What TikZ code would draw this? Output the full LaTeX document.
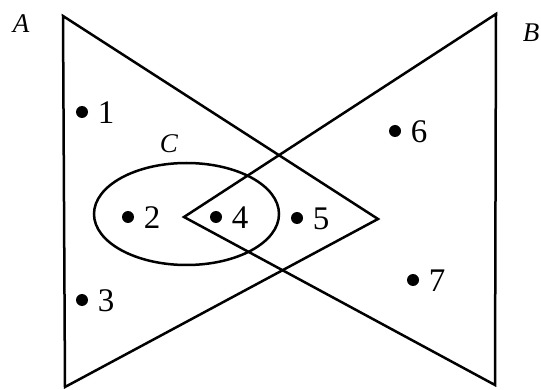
\documentclass[tikz,border=0pt]{standalone}
\usepackage{fontspec}
\setmainfont{Liberation Serif}
\usepackage{tikz}
\usetikzlibrary{calc}

\begin{document}
\begin{tikzpicture}[x=1pt, y=-1pt, line width=2.5pt, line join=miter,
		elem/.style={circle, fill, inner sep=0pt, minimum size=12pt},
		num/.style={font=\fontsize{33pt}{38pt}\selectfont, inner sep=0pt},
		setname/.style={font=\fontsize{27pt}{31pt}\selectfont\itshape, inner sep=0pt}]
		\useasboundingbox (0,0) rectangle (541,390);
		% set A and set B
		\coordinate (A1) at (63,16);
		\coordinate (A2) at (65,387);
		\coordinate (A3) at (378,219);
		\coordinate (B1) at (496,14);
		\coordinate (B2) at (495,385);
		\coordinate (B3) at (184,217);
		\draw (A1) -- (A2) -- (A3) -- cycle;
		\draw (B1) -- (B2) -- (B3) -- cycle;
		% set C
		\draw (186.5,214) ellipse [x radius=92.5, y radius=51];
		% set names
		\node[setname] (nA) at (21,24) {A};
		\node[setname] (nB) at (531,33) {B};
		\node[setname] (nC) at (169,144) {C};
		% elements
		\foreach \k/\px/\py in {1/82/112, 2/128/217, 3/82/300, 4/216/217, 5/297/218, 6/395/131, 7/413/280} {
			\node[elem] (e\k) at (\px,\py) {};
			\node[num] (l\k) at ($(e\k)+(24,1)$) {\k};
		}
	\end{tikzpicture}
\end{document}
